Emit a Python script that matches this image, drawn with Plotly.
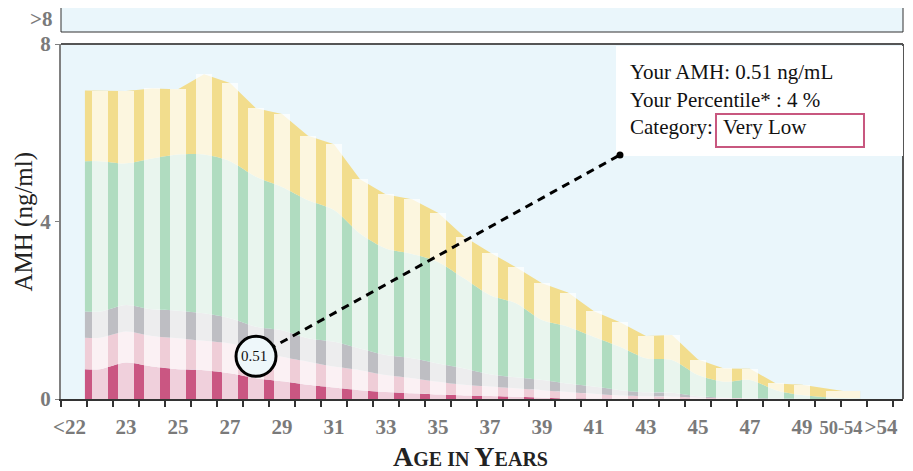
import plotly.graph_objects as go

# ---------------- data ----------------
age_labels = [str(a) for a in range(22, 50)] + ["50-54"]
age_pos = list(range(22, 50)) + [50.58]
bar_w = [0.62] * 28 + [1.31]

# percentile boundaries (ng/ml)
p5 = [0.67, 0.82, 0.73, 0.67, 0.65, 0.58, 0.47, 0.40, 0.32, 0.26, 0.20, 0.16, 0.13, 0.10,
      0.08, 0.07, 0.05, 0.03, 0.01, 0.01, 0.0, 0.0, 0.0, 0.0, 0.0, 0.0, 0.0, 0.0, 0.0]
p10 = [1.38, 1.52, 1.42, 1.37, 1.31, 1.25, 1.10, 0.95, 0.84, 0.73, 0.65, 0.54, 0.47, 0.39,
       0.32, 0.28, 0.24, 0.20, 0.16, 0.12, 0.08, 0.06, 0.05, 0.03, 0.02, 0.01, 0.0, 0.0, 0.0]
p25 = [1.97, 2.12, 2.02, 1.99, 1.93, 1.82, 1.63, 1.55, 1.37, 1.29, 1.14, 0.99, 0.92, 0.80,
       0.69, 0.56, 0.49, 0.43, 0.35, 0.28, 0.20, 0.15, 0.14, 0.06, 0.03, 0.02, 0.01, 0.0, 0.0]
p75 = [5.36, 5.31, 5.42, 5.51, 5.51, 5.36, 5.01, 4.78, 4.48, 4.26, 3.73, 3.39, 3.27, 3.09,
       2.72, 2.34, 2.16, 1.78, 1.63, 1.40, 1.18, 0.92, 0.88, 0.54, 0.39, 0.43, 0.20, 0.09, 0.02]
p95 = [6.95, 6.94, 7.00, 6.98, 7.32, 7.12, 6.55, 6.42, 5.93, 5.74, 4.95, 4.61, 4.50, 4.20,
       3.66, 3.30, 2.97, 2.61, 2.40, 1.98, 1.73, 1.42, 1.44, 0.89, 0.69, 0.68, 0.35, 0.32, 0.18]

tick_labels = ["<22"] + [str(a) for a in range(23, 50, 2)] + ["50-54", ">54"]
tick_pos = [20.83] + list(range(23, 50, 2)) + [50.5, 52.04]
edge_ticks = [20.5 + i for i in range(33)]

user_age = 28
user_amh = 0.51
user_percentile = 4
user_category = "Very Low"
box_age = 42
box_amh = 5.5

# ---------------- style ----------------
# page body has an 8px default margin, so the figure is 8px smaller
BODY = 8
W, H = 913 - BODY, 471 - BODY
PX0, PY0, PX1, PY1 = 61, 44, 903, 399          # plot area in window pixels
ML, MT = PX0 - BODY, PY0 - BODY
MR, MB = 913 - PX1, 471 - PY1
plot_w, plot_h = PX1 - PX0, PY1 - PY0
px_per_unit = plot_h / 8.0


def xp(px):
    return (px - PX0) / plot_w


def yp(py):
    return 1 - (py - PY0) / plot_h


BG = "#EAF6FB"
band_colors = ["#CA5682", "#EFCDD7", "#BEBEC3", "#B0DCC0", "#F2DD8D"]
TICKFONT = dict(family="Liberation Serif", size=21, color="#7a7a7a", weight="bold")
TXTFONT = dict(family="Liberation Serif", size=21, color="#111111")

x_area = [age_pos[0] - 0.58] + age_pos + [age_pos[-1] + bar_w[-1] / 2]

fig = go.Figure()
for i, (vals, col) in enumerate(zip([p5, p10, p25, p75, p95], band_colors)):
    y_ext = [vals[0]] + vals + [vals[-1]]
    fig.add_trace(go.Scatter(
        x=x_area, y=y_ext, mode="lines",
        line=dict(width=0, shape="linear" if i == 4 else "spline", smoothing=0.8),
        fill="tozeroy" if i == 0 else "tonexty", fillcolor=col,
        hoverinfo="skip", showlegend=False))

# light stripes drawn on an overlaying subplot so they sit above the areas
fig.add_trace(go.Bar(
    x=age_pos, y=p95, width=bar_w, xaxis="x2", yaxis="y2",
    marker=dict(color="rgba(255,255,255,0.72)", line=dict(width=0)),
    hovertext=age_labels, showlegend=False))

circ_r = 20
circ_c = user_amh + circ_r / px_per_unit

shapes = [
    dict(type="rect", xref="paper", yref="paper", x0=0, x1=1, y0=yp(32), y1=yp(6),
         fillcolor=BG, line=dict(color="#333333", width=1)),
    dict(type="line", xref="paper", yref="paper", x0=0, x1=1, y0=1, y1=1,
         line=dict(color="#555555", width=2)),
    dict(type="line", xref="paper", yref="paper", x0=1, x1=1, y0=0, y1=1,
         line=dict(color="#555555", width=2)),
    dict(type="rect", xref="x", yref="y", layer="above",
         xsizemode="pixel", xanchor=box_age, x0=-4, x1=283,
         ysizemode="pixel", yanchor=box_amh, y0=-1, y1=109,
         fillcolor="white", line=dict(width=0)),
    dict(type="rect", xref="x", yref="y", layer="above",
         xsizemode="pixel", xanchor=box_age, x0=96, x1=244,
         ysizemode="pixel", yanchor=box_amh, y0=8, y1=41,
         fillcolor="white", line=dict(color="#C8577F", width=2)),
    dict(type="line", xref="x", yref="y", layer="above",
         x0=user_age, y0=circ_c, x1=box_age, y1=box_amh,
         line=dict(color="black", width=3, dash="8px,6px")),
    dict(type="circle", xref="x", yref="y", layer="above",
         xsizemode="pixel", xanchor=box_age, x0=-3.5, x1=3.5,
         ysizemode="pixel", yanchor=box_amh, y0=-3.5, y1=3.5,
         fillcolor="black", line=dict(width=0)),
    dict(type="circle", xref="x", yref="y", layer="above",
         xsizemode="pixel", xanchor=user_age, x0=-circ_r, x1=circ_r,
         ysizemode="pixel", yanchor=user_amh, y0=0, y1=2 * circ_r,
         fillcolor="#EEF7FA", line=dict(color="black", width=3)),
]

annotations = [
    dict(xref="paper", yref="paper", x=0, y=yp(19), xanchor="right",
         yanchor="middle", xshift=-7, text=">8", showarrow=False, font=TICKFONT),
    dict(xref="x", yref="y", x=user_age, y=user_amh, yshift=circ_r, xshift=-2,
         text=f"{user_amh:.2f}", showarrow=False, xanchor="center", yanchor="middle",
         font=dict(family="Liberation Serif", size=15, color="#111")),
    dict(xref="x", yref="y", x=box_age, y=box_amh, xshift=8, yshift=83, xanchor="left",
         yanchor="middle", showarrow=False, text=f"Your AMH: {user_amh:.2f} ng/mL", font=TXTFONT),
    dict(xref="x", yref="y", x=box_age, y=box_amh, xshift=8, yshift=55, xanchor="left",
         yanchor="middle", showarrow=False, text=f"Your Percentile* : {user_percentile} %", font=TXTFONT),
    dict(xref="x", yref="y", x=box_age, y=box_amh, xshift=8, yshift=28, xanchor="left",
         yanchor="middle", showarrow=False, text="Category:", font=TXTFONT),
    dict(xref="x", yref="y", x=box_age, y=box_amh, xshift=101, yshift=28, xanchor="left",
         yanchor="middle", showarrow=False, text=user_category, font=TXTFONT),
    dict(xref="paper", yref="paper", x=xp(470), y=yp(456),
         xanchor="center", yanchor="middle", showarrow=False,
         text="A<span style='font-size:20px'>GE IN </span>Y<span style='font-size:20px'>EARS</span>",
         font=dict(family="Liberation Serif", size=28, color="#222222", weight="bold")),
    dict(xref="paper", yref="paper", x=xp(23), y=0.5,
         xanchor="center", yanchor="middle", showarrow=False, textangle=-90,
         text="AMH (ng/ml)", font=dict(family="Liberation Serif", size=25, color="#222222")),
]

tick_text = [t if t != "50-54" else "<span style='font-size:18.5px'>50-54</span>" for t in tick_labels]

xrange = [20.5, 52.885]
fig.update_layout(
    width=W, height=H, margin=dict(l=ML, r=MR, t=MT, b=MB),
    paper_bgcolor="white", plot_bgcolor=BG, bargap=0,
    showlegend=False, shapes=shapes, annotations=annotations,
    xaxis=dict(range=xrange, tickmode="array", tickvals=tick_pos, ticktext=tick_text,
               tickangle=0, ticks="outside", ticklen=8, tickcolor="rgba(0,0,0,0)",
               tickfont=TICKFONT, showline=True, linecolor="#333333", linewidth=1.5,
               showgrid=False, zeroline=False,
               minor=dict(tickmode="array", tickvals=edge_ticks, ticks="outside", ticklen=6,
                          tickcolor="#333333", tickwidth=1.5, showgrid=False)),
    yaxis=dict(range=[0, 8], tickmode="array", tickvals=[0, 4, 8], ticks="outside", ticklen=4,
               tickcolor="#808080", tickfont=TICKFONT, showline=True, linecolor="#808080",
               linewidth=2, showgrid=False, zeroline=False),
    xaxis2=dict(range=xrange, overlaying="x", visible=False),
    yaxis2=dict(range=[0, 8], overlaying="y", visible=False),
)

fig.write_html("out.html")
